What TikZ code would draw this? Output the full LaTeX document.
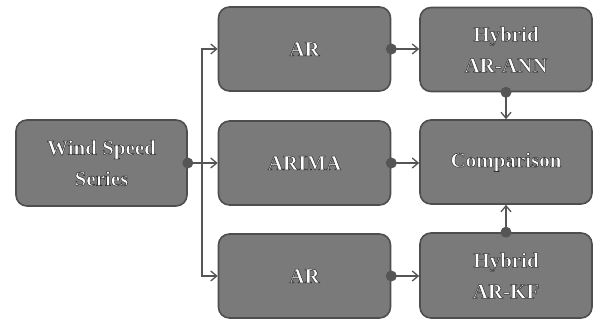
\documentclass[tikz,border=0pt]{standalone}
\usepackage{fontspec}
\setmainfont{Liberation Serif}
\usetikzlibrary{arrows.meta}
\definecolor{boxfill}{HTML}{7A7A7A}
\definecolor{boxline}{HTML}{4E4E4E}
\definecolor{conn}{HTML}{555555}
\newcommand{\otxt}[1]{\special{pdf:literal 0.2 G 0.55 w 2 Tr}#1\special{pdf:literal 0 Tr}}
\begin{document}
\begin{tikzpicture}[x=1pt,y=-1pt,
  blk/.style={draw=boxline, line width=1.6pt, fill=boxfill, rounded corners=11pt,
    minimum width=172pt, minimum height=84pt, inner sep=0pt,
    align=center, text=white, font=\bfseries\fontsize{21}{31}\selectfont},
  conline/.style={draw=conn, line width=1.3pt},
  arr/.style={conline, -{Straight Barb[length=6pt,width=10pt,line width=1.3pt]}},
  dot/.style={circle, fill=conn, inner sep=0pt, minimum size=11pt}]
\useasboundingbox (0,0) rectangle (597,320);
\node[blk, minimum width=171pt, minimum height=86pt] (ws) at (101.5,163) {\otxt{Wind Speed}\\\otxt{Series}};
\node[blk] (ar1) at (304.5,49) {\otxt{AR}};
\node[blk, minimum height=84pt] (arima) at (304.5,163) {\otxt{ARIMA}};
\node[blk] (ar2) at (304.5,276) {\otxt{AR}};
\node[blk] (ann) at (506,49.5) {\otxt{Hybrid}\\\otxt{AR-ANN}};
\node[blk] (cmp) at (506,162) {\otxt{Comparison}};
\node[blk, minimum height=85pt] (kf) at (506,275.5) {\otxt{Hybrid}\\\otxt{AR-KF}};
% dots
\node[dot] (d0) at (ws.east) {};
\node[dot] (d1) at (ar1.east) {};
\node[dot] (d2) at (arima.east) {};
\node[dot] (d3) at (ar2.east) {};
\node[dot] (d4) at (ann.south) {};
\node[dot] (d5) at (kf.north) {};
\coordinate (split) at (202,163);
\coordinate (top) at (202,49);
\coordinate (bot) at (202,276);
% connectors
\draw[conline] (d0.center) -- (split);
\draw[arr] (split) -- (arima.west);
\draw[arr] (split) -- (top) -- (ar1.west);
\draw[arr] (split) -- (bot) -- (ar2.west);
\draw[arr] (d1.center) -- (ann.west |- d1);
\draw[arr] (d2.center) -- (cmp.west |- d2);
\draw[arr] (d3.center) -- (kf.west |- d3);
\draw[arr] (d4.center) -- (cmp.north);
\draw[arr] (d5.center) -- (cmp.south);
\end{tikzpicture}
\end{document}
